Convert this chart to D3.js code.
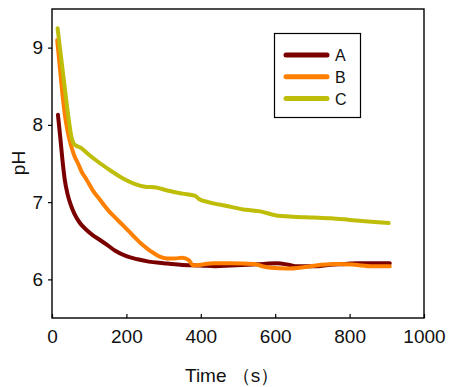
<!DOCTYPE html>
<html><head><meta charset="utf-8">
<script src="https://cdn.jsdelivr.net/npm/d3@7"></script>
<style>body{margin:0;background:#fff}svg{display:block}text{font-family:"Liberation Sans",Arial,sans-serif;fill:#111}</style>
</head><body>
<script>
const seriesNames = ["A","B","C"];
const colors = ["#7a0000","#ff8000","#bdbd0a"];
const xTicks = [0,200,400,600,800,1000];
const yTicks = [6,7,8,9];
const seriesA = [[16,8.13],[22,7.85],[28,7.55],[34,7.3],[42,7.1],[50,6.97],[60,6.85],[75,6.73],[93,6.64],[110,6.57],[129,6.51],[150,6.44],[170,6.37],[200,6.3],[230,6.26],[260,6.23],[300,6.21],[345,6.19],[400,6.18],[440,6.17],[480,6.18],[525,6.19],[570,6.2],[606,6.21],[635,6.19],[660,6.17],[700,6.17],[751,6.19],[790,6.2],[823,6.21],[870,6.21],[908,6.21]];
const seriesB = [[14,9.1],[20,8.8],[28,8.4],[37,8.05],[45,7.85],[52,7.72],[60,7.6],[70,7.5],[80,7.39],[93,7.29],[110,7.15],[129,7.03],[150,6.9],[174,6.78],[195,6.68],[219,6.56],[240,6.46],[264,6.37],[291,6.29],[309,6.27],[330,6.27],[350,6.28],[368,6.25],[375,6.2],[381,6.18],[400,6.19],[435,6.21],[480,6.21],[543,6.2],[565,6.17],[588,6.15],[633,6.14],[680,6.16],[724,6.19],[770,6.2],[813,6.19],[860,6.17],[908,6.17]];
const seriesC = [[15,9.25],[25,8.85],[35,8.45],[45,8.07],[52,7.85],[58,7.76],[65,7.73],[75,7.71],[100,7.61],[130,7.5],[160,7.4],[190,7.31],[220,7.24],[250,7.2],[280,7.19],[310,7.15],[350,7.11],[385,7.08],[395,7.04],[420,7.0],[470,6.95],[520,6.9],[560,6.88],[600,6.83],[650,6.81],[700,6.8],[750,6.79],[800,6.77],[850,6.75],[905,6.73]];
const allSeries = [seriesA, seriesB, seriesC];

const W = 469, H = 387;
const m = {left:52, right:45, top:9, bottom:69};
const svg = d3.select("body").append("svg").attr("width",W).attr("height",H);
const x = d3.scaleLinear().domain([0,1000]).range([m.left, W-m.right]);
const y = d3.scaleLinear().domain([5.5,9.5]).range([H-m.bottom, m.top]);

// frame
svg.append("rect").attr("x",x(0)).attr("y",y(9.5)).attr("width",x(1000)-x(0)).attr("height",y(5.5)-y(9.5))
  .attr("fill","none").attr("stroke","#000").attr("stroke-width",1.4);

const xa = svg.append("g").attr("transform",`translate(0,${y(5.5)})`)
  .call(d3.axisBottom(x).tickValues(xTicks).tickSizeInner(-4).tickSizeOuter(0).tickPadding(12).tickFormat(d3.format("d")));
xa.select(".domain").remove();
xa.selectAll("text").attr("font-size",19).attr("fill","#111");
xa.selectAll("line").attr("stroke","#000").attr("stroke-width",1.2);

const ya = svg.append("g").attr("transform",`translate(${x(0)},0)`)
  .call(d3.axisLeft(y).tickValues(yTicks).tickSizeInner(4).tickSizeOuter(0).tickPadding(5).tickFormat(d3.format("d")));
ya.select(".domain").remove();
ya.selectAll("text").attr("font-size",19).attr("fill","#111");
ya.selectAll("line").attr("stroke","#000").attr("stroke-width",1.2);

svg.append("text").attr("x",185).attr("y",382).attr("font-size",19).text("Time （s）");
svg.append("text").attr("transform","translate(25,163) rotate(-90)").attr("text-anchor","middle").attr("font-size",19).text("pH");

const line = d3.line().x(d=>x(d[0])).y(d=>y(d[1])).curve(d3.curveMonotoneX);
allSeries.forEach((s,i)=>{
  svg.append("path").datum(s).attr("d",line).attr("fill","none").attr("stroke",colors[i])
    .attr("stroke-width",4).attr("stroke-linejoin","round").attr("stroke-linecap","round");
});

// legend
const lg = svg.append("g");
lg.append("rect").attr("x",274.5).attr("y",33.5).attr("width",86).attr("height",84).attr("fill","#fff").attr("stroke","#000").attr("stroke-width",1.2);
seriesNames.forEach((n,i)=>{
  const yy = 55 + i*21.8;
  lg.append("line").attr("x1",286).attr("x2",327).attr("y1",yy).attr("y2",yy).attr("stroke",colors[i]).attr("stroke-width",5).attr("stroke-linecap","round");
  lg.append("text").attr("x",335).attr("y",yy+6).attr("font-size",16).text(n);
});
</script>
</body></html>
